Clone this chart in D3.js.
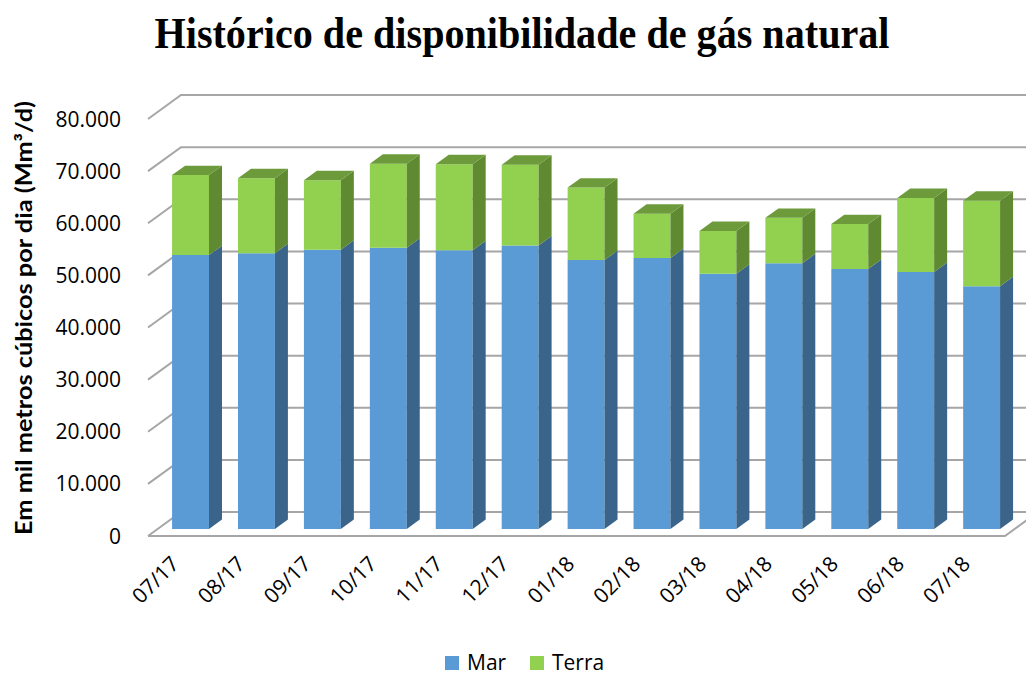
<!DOCTYPE html>
<html>
<head>
<meta charset="utf-8">
<script src="https://cdnjs.cloudflare.com/ajax/libs/d3/7.8.5/d3.min.js"></script>
<style>
  body { margin: 0; background: #fff; }
  svg { display: block; }
</style>
</head>
<body>
<div id="chart"></div>
<script>
// data (mil m³/d)
var months = ["07/17", "08/17", "09/17", "10/17", "11/17", "12/17",
              "01/18", "02/18", "03/18", "04/18", "05/18", "06/18", "07/18"];
var mar   = [52550, 52900, 53600, 53950, 53500, 54400, 51600, 52000, 49000, 51000, 49900, 49300, 46600];
var terra = [15350, 14400, 13300, 16150, 16500, 15500, 13900,  8500,  8200,  8700,  8600, 14200, 16400];
var yTicks = [0, 10000, 20000, 30000, 40000, 50000, 60000, 70000, 80000];
var seriesNames = ["Mar", "Terra"];

var width = 1026, height = 677;
var DX = 33, DY = 24;           // depth of the floor, in px
var z0 = 0.29, z1 = 0.684;      // depth span of each bar
var labelFont = "'Open Sans', 'Noto Sans', sans-serif";

var svg = d3.select("#chart").append("svg")
    .attr("width", width)
    .attr("height", height);

var x = d3.scaleBand()
    .domain(months)
    .range([148, 1005])
    .paddingInner(0.44)
    .paddingOuter(0.22);

var y = d3.scaleLinear()
    .domain([0, 80000])
    .range([536, 119]);

var fmt = function (d) {
    return d === 0 ? "0" : d3.format(",")(d).replace(/,/g, ".");
};

// project a point at depth z (0 = front, 1 = back wall)
function proj(px, py, z) {
    return [px + z * DX, py - z * DY];
}
function pts(list) {
    return list.map(function (p) { return p.join(","); }).join(" ");
}

var grid = svg.append("g").attr("class", "grid");
var gridColor = "#a6a6a6";

// back wall and side wall lines
yTicks.forEach(function (t) {
    grid.append("polyline")
        .attr("points", pts([proj(148, y(t), 0), proj(148, y(t), 1), proj(1005, y(t), 1)]))
        .attr("fill", "none")
        .attr("stroke", gridColor)
        .attr("stroke-width", 2);
});

// floor front edge
grid.append("polyline")
    .attr("points", pts([proj(148, y(0), 0), proj(1005, y(0), 0), proj(1005, y(0), 1)]))
    .attr("fill", "none")
    .attr("stroke", gridColor)
    .attr("stroke-width", 2);

// y tick labels
svg.append("g").selectAll("text")
    .data(yTicks)
    .enter().append("text")
    .attr("x", 121)
    .attr("y", function (d) { return y(d); })
    .attr("dy", "0.36em")
    .attr("text-anchor", "end")
    .attr("font-family", labelFont)
    .attr("font-size", 21)
    .attr("fill", "#000")
    .text(fmt);

// 3D bars
var colors = {
    Mar:   { front: "#5b9bd5", side: "#3a6489", top: "#4a80b3" },
    Terra: { front: "#92d050", side: "#5f8a31", top: "#6d9b3b" }
};

function poly(g, list, fill) {
    g.append("polygon")
        .attr("points", pts(list))
        .attr("fill", fill);
}

var bars = svg.append("g").attr("class", "bars");
months.forEach(function (m, i) {
    var g = bars.append("g");
    var xl = x(m), xr = x(m) + x.bandwidth();
    var stacks = [
        { name: "Mar", lo: 0, hi: mar[i] },
        { name: "Terra", lo: mar[i], hi: mar[i] + terra[i] }
    ];
    stacks.forEach(function (s, k) {
        var c = colors[s.name];
        var yl = y(s.lo), yh = y(s.hi);
        // front
        poly(g, [proj(xl, yl, z0), proj(xr, yl, z0), proj(xr, yh, z0), proj(xl, yh, z0)], c.front);
        // side
        poly(g, [proj(xr, yl, z0), proj(xr, yl, z1), proj(xr, yh, z1), proj(xr, yh, z0)], c.side);
        // top, only the upper segment shows it
        if (k === stacks.length - 1) {
            poly(g, [proj(xl, yh, z0), proj(xr, yh, z0), proj(xr, yh, z1), proj(xl, yh, z1)], c.top);
        }
    });
});

// x labels
svg.append("g").selectAll("text")
    .data(months)
    .enter().append("text")
    .attr("transform", function (d) {
        return "translate(" + (x(d) + x.bandwidth() / 2 - 6) + ",560) rotate(-45)";
    })
    .attr("text-anchor", "end")
    .attr("dy", "0.36em")
    .attr("font-family", labelFont)
    .attr("font-size", 21)
    .attr("fill", "#000")
    .text(function (d) { return d; });

// title
svg.append("text")
    .attr("x", 522)
    .attr("y", 48)
    .attr("text-anchor", "middle")
    .attr("font-family", "'Liberation Serif', 'DejaVu Serif', serif")
    .attr("font-weight", "bold")
    .attr("font-size", 44)
    .attr("textLength", 735)
    .attr("lengthAdjust", "spacingAndGlyphs")
    .attr("fill", "#000")
    .text("Histórico de disponibilidade de gás natural");

// y axis title
svg.append("text")
    .attr("transform", "translate(32,318) rotate(-90)")
    .attr("text-anchor", "middle")
    .attr("font-family", "Lato, 'Open Sans', sans-serif")
    .attr("font-weight", "bold")
    .attr("font-size", 22)
    .attr("textLength", 434)
    .attr("lengthAdjust", "spacingAndGlyphs")
    .attr("fill", "#000")
    .text("Em mil metros cúbicos por dia (Mm³/d)");

// legend
var legend = svg.append("g").attr("class", "legend");
var legendX = [445, 530];
seriesNames.forEach(function (name, i) {
    legend.append("rect")
        .attr("x", legendX[i])
        .attr("y", 656)
        .attr("width", 14)
        .attr("height", 14)
        .attr("fill", colors[name].front);
    legend.append("text")
        .attr("x", legendX[i] + 22)
        .attr("y", 670)
        .attr("font-family", labelFont)
        .attr("font-size", 21)
        .attr("fill", "#000")
        .text(name);
});
</script>
</body>
</html>
